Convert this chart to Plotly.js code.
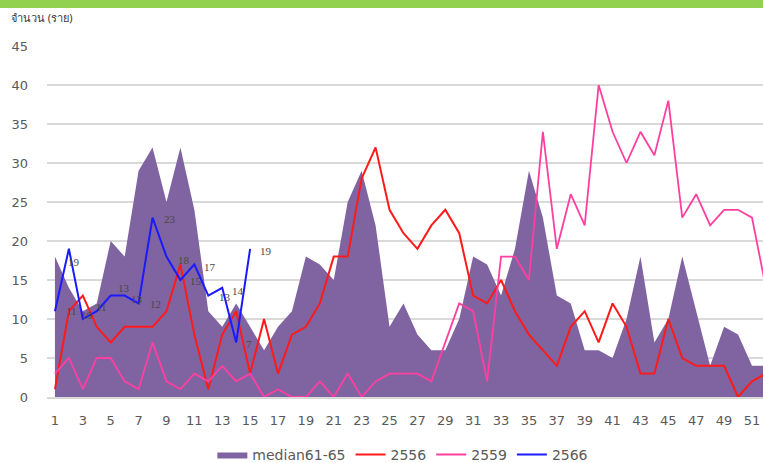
<!DOCTYPE html>
<html>
<head>
<meta charset="utf-8">
<script src="https://cdn.plot.ly/plotly-3.0.1.min.js"></script>
<style>
  html, body { margin: 0; padding: 0; background: #ffffff; }
  #chart { width: 763px; height: 463px; }
</style>
</head>
<body>
<div id="chart"></div>
<script>
// Categories (epidemiological weeks)
var weeks = [1,2,3,4,5,6,7,8,9,10,11,12,13,14,15,16,17,18,19,20,21,22,23,24,25,26,
             27,28,29,30,31,32,33,34,35,36,37,38,39,40,41,42,43,44,45,46,47,48,49,50,51,52];

// Series values
var median6165 = [18,14,11,12,20,18,29,32,25,32,24,11,9,12,9,6,9,11,18,17,15,25,29,22,9,12,
                  8,6,6,10,18,17,13,19,29,23,13,12,6,6,5,10,18,7,10,18,11,4,9,8,4,4];
var y2556 = [1,11,13,9,7,9,9,9,11,17,8,1,8,11,3,10,3,8,9,12,18,18,28,32,24,21,
             19,22,24,21,13,12,15,11,8,6,4,9,11,7,12,9,3,3,10,5,4,4,4,0,2,3];
var y2559 = [3,5,1,5,5,2,1,7,2,1,3,2,4,2,3,0,1,0,0,2,0,3,0,2,3,3,
             3,2,7,12,11,2,18,18,15,34,19,26,22,40,34,30,34,31,38,23,26,22,24,24,23,14];
var weeks2566 = [1,2,3,4,5,6,7,8,9,10,11,12,13,14,15];
var y2566 = [11,19,10,11,13,13,12,23,18,15,17,13,14,7,19];

// Series names / axis texts
var seriesNames = ["median61-65", "2556", "2559", "2566"];
var yTitle = "จำนวน (ราย)";

// Label placement offsets for the 2566 data labels (pixels: right, down)
var labelDx = [17,5,4,5,13,12,17,17,18,16,16,17,16,13,16];
var labelDy = [0,13,-4,-4,-8,3,1,1,3,1,3,1,3,2,2];

var traces = [
  {
    x: weeks, y: median6165, name: seriesNames[0], type: 'scatter', mode: 'lines',
    fill: 'tozeroy', fillcolor: '#8064A2', line: {width: 0, color: '#8064A2'},
    hoverinfo: 'x+y'
  },
  {
    x: weeks, y: y2556, name: seriesNames[1], type: 'scatter', mode: 'lines',
    line: {color: '#FF1A1A', width: 2}
  },
  {
    x: weeks, y: y2559, name: seriesNames[2], type: 'scatter', mode: 'lines',
    line: {color: '#FF3FA0', width: 1.8}
  },
  {
    x: weeks2566, y: y2566, name: seriesNames[3], type: 'scatter', mode: 'lines',
    line: {color: '#1A1AFF', width: 2}
  }
];

var annotations = [];
for (var i = 0; i < y2566.length; i++) {
  annotations.push({
    x: weeks2566[i], y: y2566[i], xref: 'x', yref: 'y',
    text: String(y2566[i]), showarrow: false,
    xanchor: 'center', yanchor: 'middle',
    xshift: labelDx[i], yshift: -labelDy[i],
    font: {family: 'Liberation Serif, serif', size: 11, color: '#4a4a40'}
  });
}
annotations.push({
  x: -0.053, y: 1.08, xref: 'paper', yref: 'paper',
  xanchor: 'left', yanchor: 'middle', showarrow: false,
  text: yTitle,
  font: {family: 'Noto Sans, DejaVu Sans, sans-serif', size: 11, color: '#3a3a3a'}
});

var layout = {
  width: 763, height: 463,
  margin: {l: 47, r: 0, t: 46, b: 66, pad: 0, autoexpand: false},
  paper_bgcolor: '#ffffff', plot_bgcolor: '#ffffff',
  showlegend: true,
  legend: {
    orientation: 'h', x: 0.497, xanchor: 'center', y: -0.165, yanchor: 'middle',
    font: {family: 'DejaVu Sans, sans-serif', size: 14, color: '#595959'},
    traceorder: 'normal', itemwidth: 30
  },
  xaxis: {
    range: [0.43, 51.79], tickmode: 'linear', tick0: 1, dtick: 2,
    showgrid: false, zeroline: false,
    showline: true, linecolor: '#D9D9D9', linewidth: 2,
    ticks: '', ticklabelstandoff: 10, automargin: false,
    tickfont: {family: 'DejaVu Sans, sans-serif', size: 13, color: '#595959'},
    fixedrange: true
  },
  yaxis: {
    range: [0, 45], tickmode: 'linear', tick0: 0, dtick: 5,
    showgrid: true, gridcolor: '#D9D9D9', gridwidth: 2,
    zeroline: false, showline: false, ticks: '', ticklabelstandoff: 18, automargin: false,
    tickfont: {family: 'DejaVu Sans, sans-serif', size: 13, color: '#595959'},
    fixedrange: true
  },
  shapes: [{
    type: 'rect', xref: 'paper', yref: 'paper',
    x0: -0.07, x1: 1.01, y0: 1.108, y1: 1.14,
    fillcolor: '#92D050', line: {width: 0}, layer: 'above'
  }],
  annotations: annotations
};

Plotly.newPlot('chart', traces, layout, {displayModeBar: false, staticPlot: true});
</script>
</body>
</html>
